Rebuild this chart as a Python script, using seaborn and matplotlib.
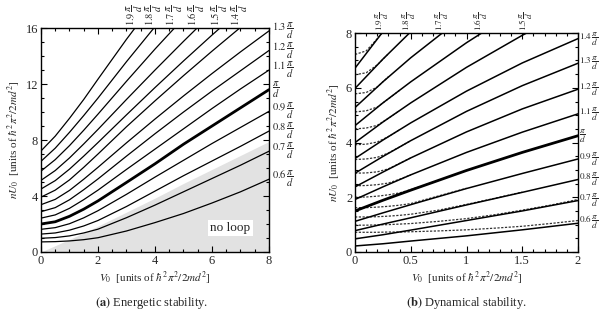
import numpy as np
import matplotlib
matplotlib.use("Agg")
import matplotlib.pyplot as plt
import matplotlib.transforms as mtransforms
import seaborn as sns

# ---------------- (a) energetic stability ----------------
v0_a = [0, 0.5, 1, 1.5, 2, 3, 4, 5, 6, 7, 8]
k_a = [0.6, 0.7, 0.8, 0.9, 1.0, 1.1, 1.2, 1.3, 1.4, 1.5, 1.6, 1.7, 1.8, 1.9]
ua_06 = [0.72, 0.74, 0.79, 0.88, 1.02, 1.5, 2.1, 2.75, 3.5, 4.3, 5.2]
ua_07 = [0.98, 1.03, 1.15, 1.36, 1.63, 2.45, 3.35, 4.3, 5.25, 6.2, 7.2]
ua_08 = [1.28, 1.36, 1.56, 1.86, 2.25, 3.25, 4.35, 5.45, 6.5, 7.55, 8.64]
ua_09 = [1.62, 1.74, 2.02, 2.44, 2.95, 4.12, 5.35, 6.55, 7.75, 8.9, 10.05]
ua_10 = [2.0, 2.16, 2.55, 3.06, 3.65, 4.97, 6.3, 7.7, 9.0, 10.3, 11.6]
ua_11 = [2.42, 2.65, 3.12, 3.74, 4.42, 5.9, 7.35, 8.8, 10.25, 11.65, 13.0]
ua_12 = [2.88, 3.17, 3.73, 4.45, 5.22, 6.85, 8.45, 10.0, 11.5, 12.95, 14.4]
ua_13 = [3.38, 3.76, 4.4, 5.2, 6.05, 7.8, 9.5, 11.15, 12.75, 14.3, 15.8]
ua_14 = [3.92, 4.42, 5.15, 6.05, 7.0, 8.95, 10.8, 12.6, 14.35, 16.05, 17.7]
ua_15 = [4.5, 5.1, 5.92, 6.85, 7.82, 9.8, 11.75, 13.65, 15.5, 17.3, 19.1]
ua_16 = [5.12, 5.82, 6.72, 7.72, 8.76, 10.9, 13.0, 15.05, 17.05, 19.0, 20.9]
ua_17 = [5.78, 6.6, 7.6, 8.7, 9.85, 12.2, 14.5, 16.7, 18.85, 20.9, 22.9]
ua_18 = [6.48, 7.42, 8.55, 9.75, 11.0, 13.6, 16.1, 18.5, 20.8, 23.0, 25.2]
ua_19 = [7.22, 8.28, 9.55, 10.9, 12.35, 15.2, 17.9, 20.5, 23.0, 25.4, 27.7]
noloop_a = [0, 0.45, 0.9, 1.37, 1.85, 2.85, 3.85, 4.9, 5.9, 6.9, 7.9]

# ---------------- (b) dynamical stability ----------------
v0_b = [0, 0.25, 0.5, 1, 1.5, 2]
ub_06 = [0.22, 0.30, 0.40, 0.59, 0.81, 1.05]
ub_07 = [0.48, 0.63, 0.80, 1.15, 1.50, 1.88]
ub_08 = [0.78, 1.02, 1.25, 1.72, 2.18, 2.65]
ub_09 = [1.12, 1.43, 1.73, 2.32, 2.87, 3.40]
ub_10 = [1.50, 1.89, 2.26, 2.98, 3.64, 4.25]
ub_11 = [1.92, 2.38, 2.82, 3.64, 4.38, 5.05]
ub_12 = [2.38, 2.92, 3.44, 4.39, 5.23, 5.95]
ub_13 = [2.88, 3.49, 4.07, 5.14, 6.08, 6.90]
ub_14 = [3.42, 4.09, 4.72, 5.88, 6.91, 7.80]
ub_15 = [4.00, 4.75, 5.45, 6.75, 7.92, 9.00]
ub_16 = [4.62, 5.45, 6.22, 7.65, 8.95, 10.10]
ub_17 = [5.28, 6.22, 7.10, 8.70, 10.10, 11.40]
ub_18 = [5.98, 7.05, 8.05, 9.85, 11.40, 12.80]
ub_19 = [6.72, 8.05, 9.30, 11.40, 13.20, 14.80]

# dotted curves, read until they join the solid one
v0_d = [0, 0.1, 0.2, 0.3, 0.4, 0.5, 0.75, 1.0, 1.25, 1.5, 1.75, 2.0]
db_06 = [0.72, 0.72, 0.72, 0.73, 0.73, 0.74, 0.77, 0.81, 0.87, 0.94, 1.04, 1.15]
db_07 = [0.98, 0.98, 0.99, 1.0, 1.02, 1.04, 1.12, 1.22, 1.36, 1.53, 1.71, 1.92]
db_08 = [1.28, 1.28, 1.29, 1.31, 1.34, 1.38, 1.53, 1.74, 1.96, 2.19]
db_09 = [1.62, 1.62, 1.64, 1.67, 1.71, 1.77, 2.05, 2.33]
db_10 = [2.0, 2.01, 2.04, 2.09, 2.16, 2.28, 2.62]
db_11 = [2.42, 2.43, 2.46, 2.52, 2.66, 2.82]
db_12 = [2.88, 2.89, 2.93, 3.04, 3.24, 3.44]
db_13 = [3.38, 3.4, 3.46, 3.62, 3.84, 4.07]
db_14 = [3.92, 3.94, 4.02, 4.22, 4.47]
db_15 = [4.5, 4.53, 4.63, 4.89, 5.17]
db_16 = [5.12, 5.16, 5.3, 5.6, 5.91]
db_17 = [5.78, 5.83, 6.03, 6.41]
db_18 = [6.48, 6.55, 6.84, 7.25]
db_19 = [7.22, 7.35, 7.8, 8.3]

curves_a = [ua_06, ua_07, ua_08, ua_09, ua_10, ua_11, ua_12,
            ua_13, ua_14, ua_15, ua_16, ua_17, ua_18, ua_19]
curves_b = [ub_06, ub_07, ub_08, ub_09, ub_10, ub_11, ub_12,
            ub_13, ub_14, ub_15, ub_16, ub_17, ub_18, ub_19]
dots_b = [db_06, db_07, db_08, db_09, db_10, db_11, db_12,
          db_13, db_14, db_15, db_16, db_17, db_18, db_19]

sns.set_theme(style="ticks")
plt.rcParams['font.family'] = ['Liberation Serif', 'DejaVu Serif']
plt.rcParams['mathtext.fontset'] = 'stix'
plt.rcParams['axes.linewidth'] = 1.0
plt.rcParams['axes.edgecolor'] = 'black'

fig = plt.figure(figsize=(6.0, 3.14), dpi=100)
ax1 = fig.add_axes([0.0683, 0.1975, 0.38, 0.713])
ax2 = fig.add_axes([0.5917, 0.1975, 0.3717, 0.697])


def klabel(k):
    if abs(k - 1.0) < 1e-9:
        return r"$\dfrac{\pi}{d}$"
    return r"$%.1f\,\dfrac{\pi}{d}$" % k


def style_axes(ax, xmax, ymax, xmaj, xmin, ymaj, ymin):
    ax.set_xlim(0, xmax)
    ax.set_ylim(0, ymax)
    ax.set_xticks(np.arange(0, xmax + 1e-9, xmaj))
    ax.set_xticks(np.arange(0, xmax + 1e-9, xmin), minor=True)
    ax.set_yticks(np.arange(0, ymax + 1e-9, ymaj))
    ax.set_yticks(np.arange(0, ymax + 1e-9, ymin), minor=True)
    ax.tick_params(which='both', direction='in', top=True, right=True,
                   color='black', labelsize=9, pad=2, width=0.8)
    ax.tick_params(which='major', length=4)
    ax.tick_params(which='minor', length=2.5)
    for s in ax.spines.values():
        s.set_color('black')
        s.set_linewidth(1.0)
    ax.set_xlabel(r"$V_0$  [units of $\hbar^2\pi^2/2md^2$]", fontsize=8, labelpad=2)
    ax.set_ylabel(r"$nU_0$  [units of $\hbar^2\pi^2/2md^2$]", fontsize=8, labelpad=2)


# ----- panel a -----
ax1.fill_between(v0_a, 0, noloop_a, color='#e2e2e2', lw=0, zorder=0)
for k, u in zip(k_a, curves_a):
    lw = 2.0 if k == 1.0 else 0.9
    sns.lineplot(x=v0_a, y=u, ax=ax1, color='black', lw=lw, sort=False,
                 estimator=None, zorder=3)
ax1.text(6.65, 1.7, "no loop", ha='center', va='center', fontsize=9.5,
         bbox=dict(facecolor='white', edgecolor='none', pad=1.5), zorder=4)
style_axes(ax1, 8, 16, 2, 0.5, 4, 1)
ax1.set_xticklabels(["0", "2", "4", "6", "8"])

tr1 = mtransforms.blended_transform_factory(ax1.transAxes, ax1.transData)
tt1 = mtransforms.blended_transform_factory(ax1.transData, ax1.transAxes)
for k, u in zip(k_a, curves_a):
    if u[-1] <= 16:
        ax1.text(1.015, u[-1], klabel(k), transform=tr1, ha='left',
                 va='center', fontsize=7.5, clip_on=False)
    else:
        xe = np.interp(16, u, v0_a)
        ax1.text(xe, 1.01, klabel(k), transform=tt1, ha='center',
                 va='bottom', rotation=90, fontsize=7.5, clip_on=False)

# ----- panel b -----
for k, u, d in zip(k_a, curves_b, dots_b):
    lw = 2.0 if k == 1.0 else 1.1
    sns.lineplot(x=v0_b, y=u, ax=ax2, color='black', lw=lw, sort=False,
                 estimator=None, zorder=3)
    sns.lineplot(x=v0_d[:len(d)], y=d, ax=ax2, color='#333333', lw=0.9,
                 linestyle=(0, (1.8, 1.2)), sort=False, estimator=None, zorder=2)
style_axes(ax2, 2, 8, 0.5, 0.1, 2, 0.5)
ax2.set_xticklabels(["0", "0.5", "1", "1.5", "2"])

tr2 = mtransforms.blended_transform_factory(ax2.transAxes, ax2.transData)
tt2 = mtransforms.blended_transform_factory(ax2.transData, ax2.transAxes)
for k, u, d in zip(k_a, curves_b, dots_b):
    if u[-1] <= 8:
        yend = u[-1] if len(d) < len(v0_d) else 0.5 * (u[-1] + d[-1])
        ax2.text(1.006, yend, klabel(k), transform=tr2, ha='left',
                 va='center', fontsize=6.6, clip_on=False)
    elif k >= 1.5:
        xe = np.interp(8, u, v0_b)
        ax2.text(xe, 1.01, klabel(k), transform=tt2, ha='center',
                 va='bottom', rotation=90, fontsize=6.6, clip_on=False)

fig.text(0.253, 0.035, r"$\mathbf{(a)}$ Energetic stability.", ha='center',
         va='center', fontsize=9)
fig.text(0.778, 0.035, r"$\mathbf{(b)}$ Dynamical stability.", ha='center',
         va='center', fontsize=9)

fig.savefig("out.png", dpi=100)
